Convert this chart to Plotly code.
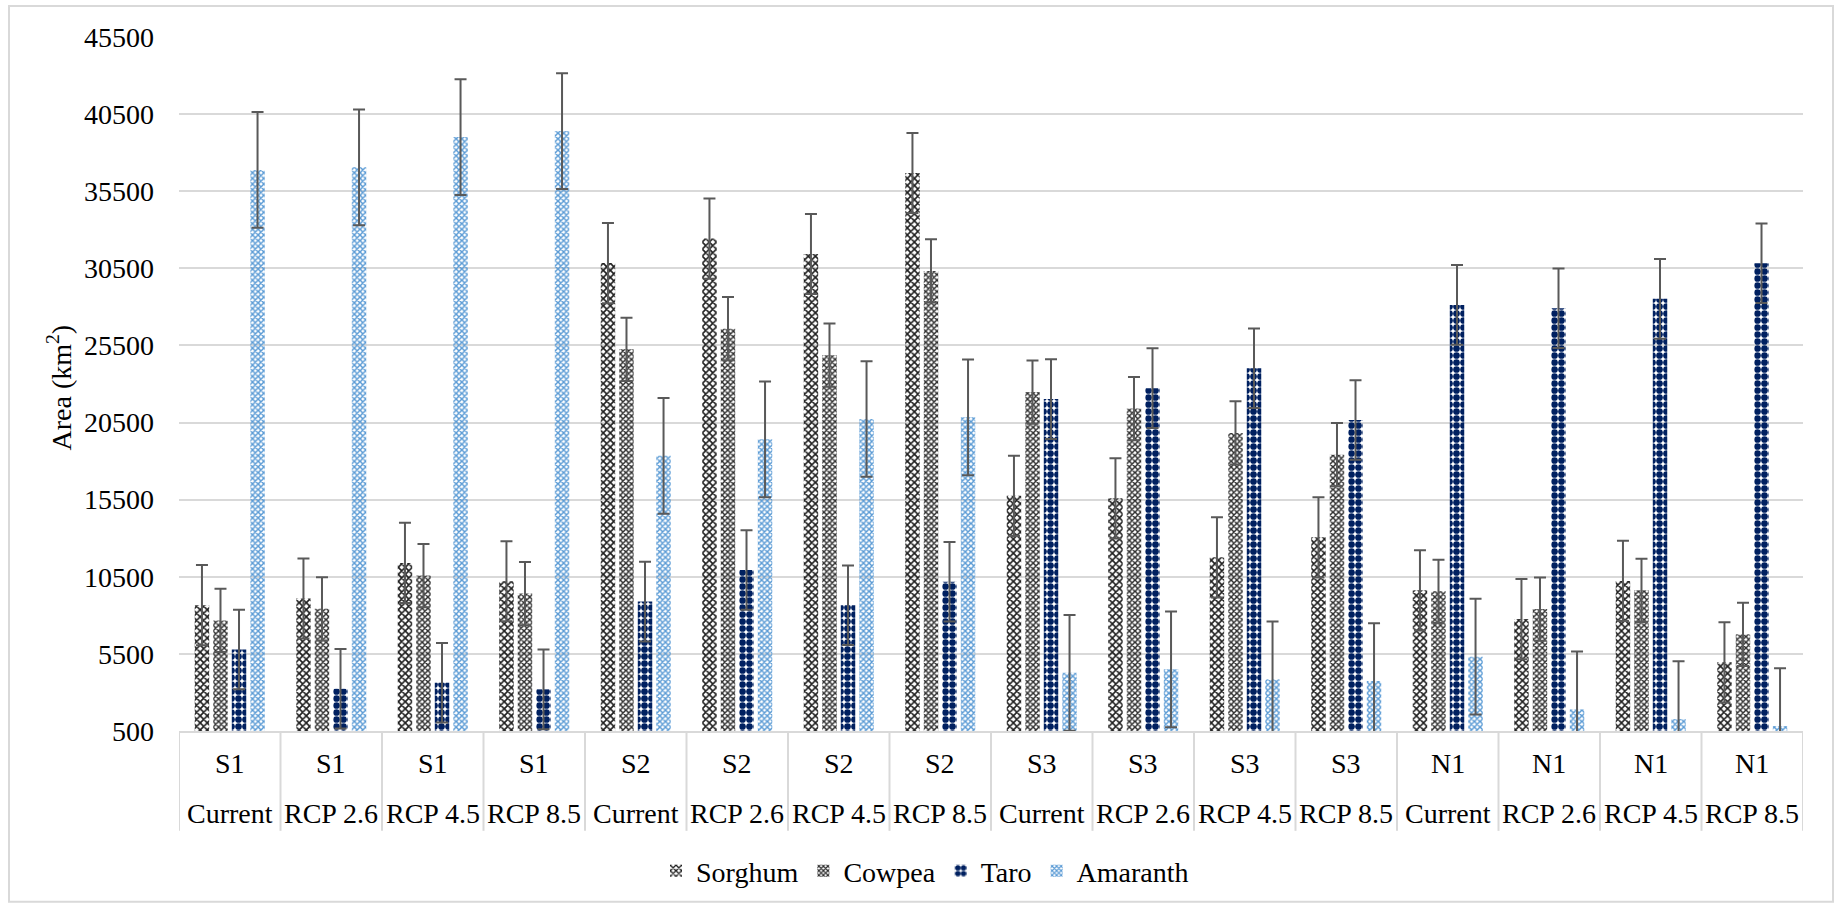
import plotly.graph_objects as go

zones = ["S1", "S1", "S1", "S1", "S2", "S2", "S2", "S2",
         "S3", "S3", "S3", "S3", "N1", "N1", "N1", "N1"]
scenarios = ["Current", "RCP 2.6", "RCP 4.5", "RCP 8.5"] * 4
categories = [f"{z} {s}" for z, s in zip(zones, scenarios)]

sorghum = [8660, 9090, 11400, 10210, 30840, 32430, 31430, 36680,
           15750, 15590, 11760, 13060, 9620, 7760, 10230, 4950]
cowpea = [7670, 8420, 10580, 9410, 25250, 26590, 24870, 30330,
          22480, 21410, 19830, 18420, 9560, 8410, 9620, 6770]
taro = [5790, 3240, 3630, 3200, 8890, 10940, 8650, 10180,
        22020, 22730, 24020, 20670, 28130, 27910, 28520, 30830]
amaranth = [36880, 37050, 39010, 39400, 18340, 19410, 20730, 20840,
            4270, 4500, 3850, 3740, 5320, 1900, 1280, 820]

sorghum_err = 2600
cowpea_err = 2050
taro_err = 2580
amaranth_err = 3750

y_ticks = list(range(500, 45501, 5000))

FONT = "Liberation Serif"
FS = 28
W, H = 1836, 907
L, R, T, B = 179, 33, 37, 175
pw, ph = W - L - R, H - T - B


def py(px):  # pixel y -> paper y
    return (H - B - px) / ph


def pxx(px):  # pixel x -> paper x
    return (px - L) / pw


series = [
    ("Sorghum", sorghum, sorghum_err, "#1e1e1e", "x", 5, 0.55),
    ("Cowpea", cowpea, cowpea_err, "#2e2e2e", "x", 4, 0.6),
    ("Taro", taro, taro_err, "#002060", ".", 7, 0.72),
    ("Amaranth", amaranth, amaranth_err, "#5b9bd5", "x", 4, 0.6),
]

fig = go.Figure()
for name, vals, err, col, shp, size, sol in series:
    fig.add_trace(go.Bar(
        name=name, x=categories, y=vals,
        marker=dict(color=col, line=dict(width=0),
                    pattern=dict(shape=shp, size=size, solidity=sol,
                                 fillmode="replace", fgcolor=col)),
        error_y=dict(type="constant", value=err, color="#595959",
                     thickness=2, width=6),
    ))

shapes = []
for i in range(len(categories) + 1):
    shapes.append(dict(type="line", xref="x", yref="paper",
                       x0=i - 0.5, x1=i - 0.5, y0=0, y1=py(832),
                       line=dict(color="#d9d9d9", width=2)))
shapes.append(dict(type="rect", xref="paper", yref="paper",
                   x0=pxx(9), x1=pxx(1833), y0=py(903), y1=py(6),
                   line=dict(color="#d9d9d9", width=2)))

annotations = []
for c, z, s in zip(categories, zones, scenarios):
    annotations.append(dict(x=c, xref="x", y=py(765), yref="paper",
                            text=z, showarrow=False,
                            font=dict(family=FONT, size=FS, color="#000"),
                            yanchor="middle"))
    annotations.append(dict(x=c, xref="x", y=py(815), yref="paper",
                            text=s, showarrow=False,
                            font=dict(family=FONT, size=FS, color="#000"),
                            yanchor="middle"))
annotations.append(dict(x=pxx(60), xref="paper", y=py(388), yref="paper",
                        text="Area (km<sup>2</sup>)", textangle=-90,
                        showarrow=False,
                        font=dict(family=FONT, size=FS, color="#000"),
                        xanchor="center", yanchor="middle"))

fig.update_layout(
    width=W, height=H,
    margin=dict(l=L, r=R, t=T, b=B, pad=0),
    paper_bgcolor="white", plot_bgcolor="white",
    barmode="group", bargap=0.27, bargroupgap=0.22,
    font=dict(family=FONT, size=FS, color="#000"),
    xaxis=dict(type="category", range=[-0.5, 15.5], showticklabels=False,
               showline=True, linecolor="#d9d9d9", linewidth=2,
               showgrid=False, ticks=""),
    yaxis=dict(range=[500, 45500], tickvals=y_ticks,
               ticktext=[str(v) for v in y_ticks],
               showgrid=True, gridcolor="#d9d9d9", gridwidth=2,
               zeroline=False, showline=False, ticks="",
               ticklabelstandoff=24,
               tickfont=dict(family=FONT, size=FS, color="#000")),
    legend=dict(orientation="h", x=pxx(925), xanchor="center",
                y=py(871), yanchor="middle",
                font=dict(family=FONT, size=FS, color="#000"),
                itemwidth=30, tracegroupgap=0),
    shapes=shapes, annotations=annotations, showlegend=True,
)

fig.write_html("out.html", config={"displayModeBar": False},
               post_script="document.body.style.margin='0';")
